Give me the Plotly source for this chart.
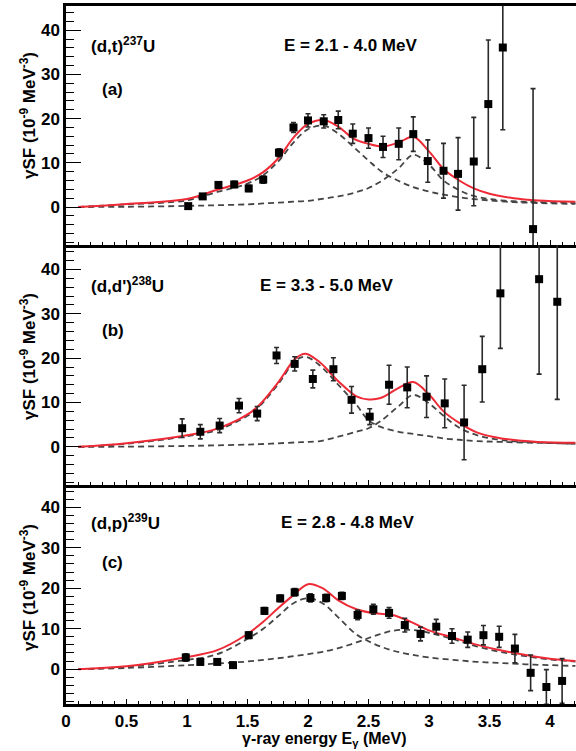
import plotly.graph_objects as go

# ---------------- data ----------------
# Panel (a): (d,t) 237U
a_E = [1.01, 1.13, 1.26, 1.39, 1.51, 1.63, 1.76, 1.88, 2.00, 2.13, 2.25, 2.37, 2.50,
       2.62, 2.75, 2.87, 2.99, 3.12, 3.24, 3.37, 3.49, 3.61, 3.86]
a_SF = [0.2, 2.4, 5.0, 5.1, 4.2, 6.2, 12.3, 18.0, 19.6, 19.4, 19.7, 16.6, 15.6,
        13.6, 14.3, 16.5, 10.4, 8.2, 7.5, 10.3, 23.3, 36.1, -5.0]
a_err = [0.5, 0.6, 0.7, 0.7, 0.7, 0.8, 0.9, 1.1, 1.5, 1.5, 2.0, 2.2, 2.3,
         2.4, 3.6, 3.9, 4.8, 6.2, 8.2, 10.0, 14.5, 18.6, 31.8]
a_fitE = [0.1, 0.5, 1.0, 1.25, 1.5, 1.63, 1.76, 1.88, 2.0, 2.13, 2.25, 2.38, 2.5, 2.62,
          2.75, 2.87, 3.0, 3.12, 3.25, 3.37, 3.5, 3.7, 3.9, 4.21]
a_total = [0, 0.7, 1.8, 3.9, 6.0, 7.9, 11.2, 15.7, 18.8, 19.7, 18.2, 15.4, 14.3, 13.7,
           14.6, 15.9, 12.6, 8.6, 6.0, 4.2, 3.0, 2.0, 1.5, 1.2]
a_comp1 = [0, 0.6, 1.5, 3.4, 5.3, 7.2, 10.5, 14.6, 17.6, 18.4, 16.6, 13.5, 10.5, 7.8,
           5.9, 4.5, 3.5, 2.8, 2.2, 1.8, 1.5, 1.1, 0.9, 0.7]
a_comp2 = [0, 0.05, 0.25, 0.4, 0.6, 0.8, 1.0, 1.2, 1.4, 1.9, 2.4, 3.2, 4.3, 6.1,
           8.8, 11.8, 9.6, 6.0, 3.8, 2.5, 1.8, 1.3, 1.1, 0.9]

# Panel (b): (d,d') 238U
b_E = [0.96, 1.11, 1.27, 1.43, 1.58, 1.74, 1.89, 2.04, 2.21, 2.36, 2.51, 2.67, 2.82,
       2.98, 3.13, 3.29, 3.44, 3.59, 3.91, 4.06]
b_SF = [4.2, 3.4, 4.8, 9.3, 7.5, 20.6, 18.7, 15.3, 17.5, 10.6, 6.8, 14.0, 13.4,
        11.3, 9.8, 5.5, 17.5, 34.6, 37.8, 32.7]
b_err = [2.1, 1.6, 1.6, 1.6, 1.6, 1.8, 1.6, 2.0, 2.6, 3.0, 1.8, 4.4, 4.6,
         4.7, 5.5, 8.4, 7.4, 12.4, 21.4, 22.0]
b_fitE = [0.1, 0.5, 1.0, 1.25, 1.5, 1.6, 1.75, 1.9, 1.98, 2.1, 2.25, 2.4, 2.5, 2.6,
          2.75, 2.87, 3.0, 3.12, 3.25, 3.4, 3.6, 3.9, 4.21]
b_total = [0, 0.8, 2.6, 4.1, 7.3, 9.5, 14.4, 20.0, 21.0, 19.0, 14.8, 11.4, 10.7, 11.0,
           13.3, 14.6, 11.8, 8.0, 5.4, 3.2, 1.9, 1.1, 0.9]
b_comp1 = [0, 0.7, 2.4, 3.8, 7.0, 9.2, 14.0, 19.5, 20.3, 18.3, 14.0, 9.5, 6.0, 4.5,
           3.4, 2.9, 2.4, 1.9, 1.6, 1.3, 1.1, 0.9, 0.7]
b_comp2 = [0, 0.05, 0.2, 0.35, 0.5, 0.6, 0.8, 1.0, 1.1, 1.3, 2.3, 3.4, 4.2, 5.8,
           9.2, 11.7, 9.8, 7.0, 4.3, 2.6, 1.5, 1.0, 0.7]

# Panel (c): (d,p) 239U
c_E = [0.99, 1.11, 1.25, 1.38, 1.51, 1.64, 1.77, 1.89, 2.02, 2.15, 2.28, 2.41, 2.54,
       2.67, 2.80, 2.93, 3.06, 3.19, 3.32, 3.45, 3.58, 3.71, 3.84, 3.97, 4.10]
c_SF = [2.9, 1.8, 1.8, 1.0, 8.4, 14.4, 17.5, 19.0, 17.6, 17.6, 18.1, 13.4, 14.8,
        13.9, 10.9, 8.7, 10.5, 8.2, 7.3, 8.4, 8.0, 5.1, -0.9, -4.4, -2.9]
c_err = [0.9, 0.7, 0.7, 0.7, 0.8, 0.8, 0.8, 0.9, 1.0, 0.9, 0.9, 1.2, 1.2,
         1.3, 1.7, 1.7, 1.8, 1.8, 1.9, 2.4, 2.6, 3.5, 4.4, 4.3, 5.5]
c_fitE = [0.1, 0.5, 1.0, 1.25, 1.5, 1.63, 1.75, 1.88, 2.0, 2.12, 2.25, 2.4, 2.55, 2.7,
          2.85, 3.0, 3.2, 3.4, 3.6, 3.8, 4.0, 4.21]
c_total = [0, 0.7, 3.0, 4.7, 8.7, 11.7, 15.0, 18.3, 21.0, 20.0, 17.0, 14.8, 13.8, 13.4,
           11.7, 9.6, 7.8, 6.0, 4.6, 3.5, 2.6, 2.0]
c_comp1 = [0, 0.6, 2.3, 3.7, 7.5, 10.0, 13.0, 16.3, 17.5, 16.3, 12.8, 8.6, 6.2, 4.6,
           3.6, 2.9, 2.3, 1.8, 1.5, 1.2, 1.0, 0.8]
c_comp2 = [0, 0.3, 1.0, 1.4, 1.9, 2.3, 2.7, 3.2, 3.7, 4.3, 5.2, 6.6, 8.2, 9.5,
           9.7, 9.0, 7.4, 5.6, 4.2, 3.2, 2.4, 1.9]

reactions = ["(d,t)<sup>237</sup>U", "(d,d')<sup>238</sup>U", "(d,p)<sup>239</sup>U"]
energies = ["E = 2.1 - 4.0 MeV", "E = 3.3 - 5.0 MeV", "E = 2.8 - 4.8 MeV"]
tags = ["(a)", "(b)", "(c)"]
x_ticks = [0, 0.5, 1, 1.5, 2, 2.5, 3, 3.5, 4]
x_ticklabels = ["0", "0.5", "1", "1.5", "2", "2.5", "3", "3.5", "4"]
y_ticks = [0, 10, 20, 30, 40]

# ---------------- layout geometry ----------------
W, H = 576, 751
L, R, T, B = 66, 0, 6, 47
PW, PH = W - L - R, H - T - B
panel_px = [(6, 245), (245, 485), (485, 704)]   # top, bottom pixel rows of each panel


def px_x(px):
    return (px - L) / PW


def px_y(py):
    return (H - B - py) / PH


FONT = "Liberation Sans"
RED = "#ee2a36"
DASH = "#454545"
TXT = 17

fig = go.Figure()

panels = [
    (a_E, a_SF, a_err, a_fitE, a_total, a_comp1, a_comp2),
    (b_E, b_SF, b_err, b_fitE, b_total, b_comp1, b_comp2),
    (c_E, c_SF, c_err, c_fitE, c_total, c_comp1, c_comp2),
]

for i, (E, SF, err, fE, tot, c1, c2) in enumerate(panels):
    xa = "x" if i == 0 else f"x{i+1}"
    ya = "y" if i == 0 else f"y{i+1}"
    for comp in (c1, c2):
        fig.add_trace(go.Scatter(x=fE, y=comp, mode="lines", xaxis=xa, yaxis=ya,
                                 line=dict(color=DASH, width=1.8, dash="6px,4px", shape="spline"),
                                 showlegend=False, hoverinfo="skip"))
    fig.add_trace(go.Scatter(x=fE, y=tot, mode="lines", xaxis=xa, yaxis=ya,
                             line=dict(color=RED, width=2, shape="spline"),
                             showlegend=False, hoverinfo="skip"))
    fig.add_trace(go.Scatter(x=E, y=SF, mode="markers", xaxis=xa, yaxis=ya,
                             marker=dict(symbol="square", size=8, color="black"),
                             error_y=dict(type="data", array=err, visible=True,
                                          color="#2a2a2a", thickness=1.6, width=2.5),
                             showlegend=False))

layout = dict(
    width=W, height=H, margin=dict(l=L, r=R, t=T, b=B),
    paper_bgcolor="white", plot_bgcolor="white", showlegend=False,
    font=dict(family=FONT, size=14, color="black"),
)

for i, (top, bot) in enumerate(panel_px):
    xk = "xaxis" if i == 0 else f"xaxis{i+1}"
    yk = "yaxis" if i == 0 else f"yaxis{i+1}"
    ya = "y" if i == 0 else f"y{i+1}"
    xa = "x" if i == 0 else f"x{i+1}"
    layout[xk] = dict(
        domain=[0, 1], anchor=ya, range=[0, (W - L) / 121.0],
        showgrid=False, zeroline=False, showline=True, linecolor="black", linewidth=2.5,
        mirror=(i == 0),
        ticks="inside", tickvals=x_ticks, ticktext=x_ticklabels, ticklen=5, tickwidth=1.3,
        tickcolor="black",
        minor=dict(dtick=0.1, tick0=0, ticks="inside", ticklen=3, tickwidth=1, tickcolor="black"),
        showticklabels=(i == 2),
        tickfont=dict(family=FONT, size=TXT, color="black", weight="bold"),
    )
    layout[yk] = dict(
        domain=[px_y(bot), px_y(top)], anchor=xa, range=[-8.6, 45.5],
        showgrid=False, zeroline=False, showline=True, linecolor="black", linewidth=2.5,
        ticks="inside", tickvals=y_ticks, ticklen=15, tickwidth=1.3, tickcolor="black",
        minor=dict(dtick=2, tick0=0, ticks="inside", ticklen=8, tickwidth=1, tickcolor="black"),
        tickfont=dict(family=FONT, size=TXT, color="black", weight="bold"),
    )

fig.update_layout(**layout)

ann = []
label_y = [45, 285, 522]
tag_y = [90, 330, 562]
e_x = [350, 326, 347]
title_y = [116, 357, 588]
for i in range(3):
    ann.append(dict(text=reactions[i], x=px_x(89), y=px_y(label_y[i]), xref="paper", yref="paper",
                    xanchor="left", yanchor="middle", showarrow=False,
                    font=dict(family=FONT, size=TXT, color="black", weight="bold")))
    ann.append(dict(text=energies[i], x=px_x(e_x[i]), y=px_y(label_y[i]), xref="paper", yref="paper",
                    xanchor="center", yanchor="middle", showarrow=False,
                    font=dict(family=FONT, size=TXT, color="black", weight="bold")))
    ann.append(dict(text=tags[i], x=px_x(100), y=px_y(tag_y[i]), xref="paper", yref="paper",
                    xanchor="left", yanchor="middle", showarrow=False,
                    font=dict(family=FONT, size=TXT, color="black", weight="bold")))
    ann.append(dict(text="γSF (10<sup>-9</sup> MeV<sup>-3</sup>)", x=px_x(28), y=px_y(title_y[i]),
                    xref="paper", yref="paper", xanchor="center", yanchor="middle",
                    textangle=-90, showarrow=False,
                    font=dict(family=FONT, size=TXT, color="black", weight="bold")))
ann.append(dict(text="γ-ray energy E<sub>γ</sub> (MeV)", x=px_x(324), y=px_y(740),
                xref="paper", yref="paper", xanchor="center", yanchor="middle", showarrow=False,
                borderpad=0,
                font=dict(family=FONT, size=16, color="black", weight="bold")))
fig.update_layout(annotations=ann)

fig.write_html("out.html")
